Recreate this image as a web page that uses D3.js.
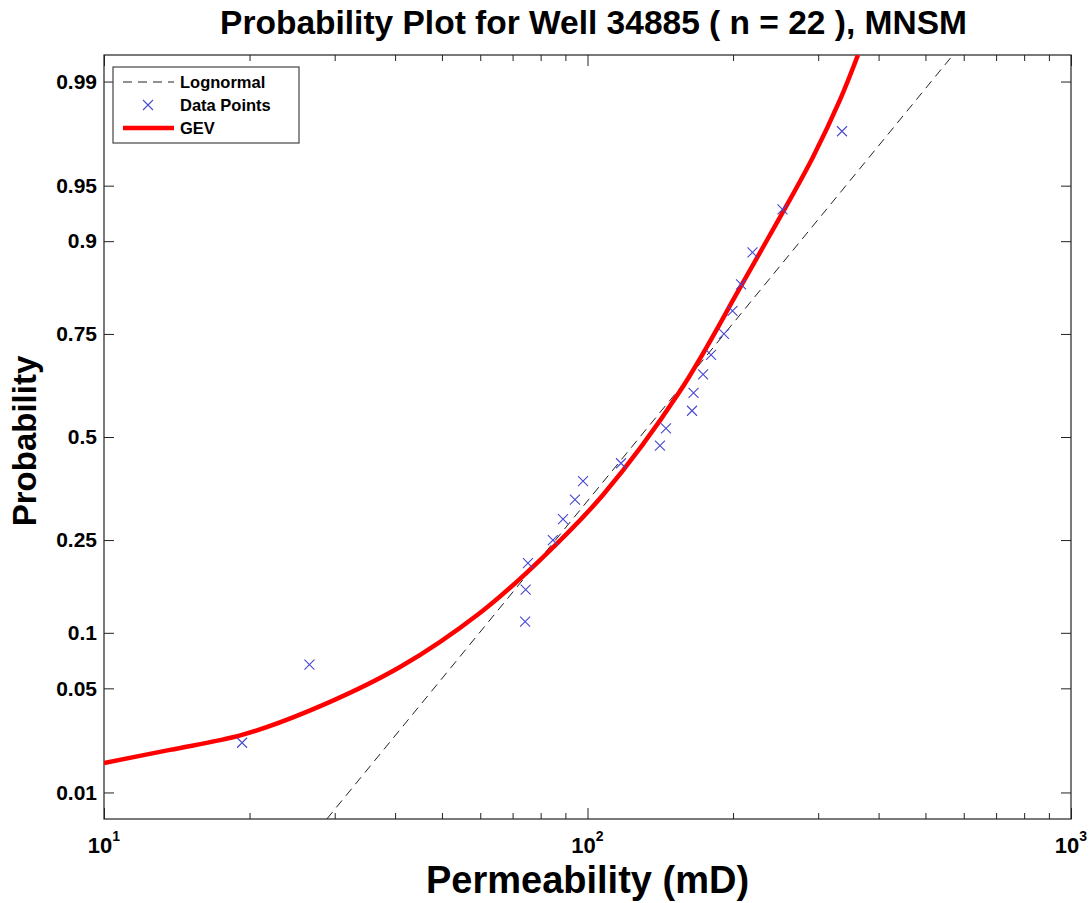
<!DOCTYPE html>
<html>
<head>
<meta charset="utf-8">
<script src="https://cdn.jsdelivr.net/npm/d3@7"></script>
<style>
  body { margin: 0; background: #fff; }
  text { font-family: "Liberation Sans", Arial, sans-serif; font-weight: bold; fill: #000; }
</style>
</head>
<body>
<div id="chart"></div>
<script>
// Data
var permeability = [19.3, 26.6, 74.3, 74.5, 75.3, 84.8, 89.0, 94.2, 97.9, 117.3, 141.2,
                    145.3, 164.5, 165.7, 173.4, 180.1, 191.5, 199.5, 207.8, 219.4, 253.1, 336.0];
var probability = [0.0227, 0.0682, 0.1136, 0.1591, 0.2045, 0.25, 0.2955, 0.3409, 0.3864, 0.4318, 0.4773,
                   0.5227, 0.5682, 0.6136, 0.6591, 0.7045, 0.75, 0.7955, 0.8409, 0.8864, 0.9318, 0.9773];

// GEV fitted curve
var gevX = [10.0, 13.69, 19.29, 26.55, 40.95, 59.9, 79.77, 107.6, 155.4, 207.8, 253.7, 292.7, 332.8, 362.6];
var gevP = [0.01645, 0.0203, 0.0256, 0.0365, 0.0661, 0.1247, 0.2104, 0.3521, 0.6183, 0.8385, 0.9296, 0.9666, 0.9863, 0.99379];

// Lognormal reference line end points
var lognX = [28.9, 570];
var lognP = [0.00621, 0.99379];

var probTicks = [0.01, 0.05, 0.1, 0.25, 0.5, 0.75, 0.9, 0.95, 0.99];
var probLabels = ["0.01", "0.05", "0.1", "0.25", "0.5", "0.75", "0.9", "0.95", "0.99"];
var xMajor = [10, 100, 1000];
var xMajorExp = ["1", "2", "3"];
var xMinor = [20, 30, 40, 50, 60, 70, 80, 90, 200, 300, 400, 500, 600, 700, 800, 900];

// inverse normal cdf (Acklam)
function probit(p) {
  var a = [-3.969683028665376e+01, 2.209460984245205e+02, -2.759285104469687e+02, 1.383577518672690e+02, -3.066479806614716e+01, 2.506628277459239e+00];
  var b = [-5.447609879822406e+01, 1.615858368580409e+02, -1.556989798598866e+02, 6.680131188771972e+01, -1.328068155288572e+01];
  var c = [-7.784894002430293e-03, -3.223964580411365e-01, -2.400758277161838e+00, -2.549732539343734e+00, 4.374664141464968e+00, 2.938163982698783e+00];
  var d = [7.784695709041462e-03, 3.224671290700398e-01, 2.445134137142996e+00, 3.754408661907416e+00];
  var plow = 0.02425, q, r;
  if (p < plow) {
    q = Math.sqrt(-2 * Math.log(p));
    return (((((c[0]*q+c[1])*q+c[2])*q+c[3])*q+c[4])*q+c[5]) / ((((d[0]*q+d[1])*q+d[2])*q+d[3])*q+1);
  }
  if (p > 1 - plow) {
    q = Math.sqrt(-2 * Math.log(1 - p));
    return -(((((c[0]*q+c[1])*q+c[2])*q+c[3])*q+c[4])*q+c[5]) / ((((d[0]*q+d[1])*q+d[2])*q+d[3])*q+1);
  }
  q = p - 0.5; r = q * q;
  return (((((a[0]*r+a[1])*r+a[2])*r+a[3])*r+a[4])*r+a[5])*q / (((((b[0]*r+b[1])*r+b[2])*r+b[3])*r+b[4])*r+1);
}

var margin = {top: 55, right: 21, bottom: 84, left: 104},
    width = 1092 - margin.left - margin.right,
    height = 903 - margin.top - margin.bottom;

var svg = d3.select("#chart")
  .append("svg")
    .attr("width", 1092)
    .attr("height", 903)
  .append("g")
    .attr("transform", "translate(" + margin.left + "," + margin.top + ")");

var x = d3.scaleLog().domain([10, 1000]).range([0, width]);
var z = d3.scaleLinear().domain([-2.5, 2.5]).range([height, 0]);
function y(p) { return z(probit(p)); }

svg.append("clipPath").attr("id", "clip")
  .append("rect").attr("width", width).attr("height", height);

// ticks (inward, mirrored like matlab box)
function styleAxis(g) {
  g.select(".domain").remove();
  g.selectAll(".tick line").attr("stroke", "#222");
}
svg.append("g").attr("transform", "translate(0," + height + ")")
  .call(d3.axisBottom(x).tickValues(xMajor).tickSize(-11).tickFormat("")).call(styleAxis);
svg.append("g").attr("transform", "translate(0," + height + ")")
  .call(d3.axisBottom(x).tickValues(xMinor).tickSize(-6).tickFormat("")).call(styleAxis);
svg.append("g")
  .call(d3.axisTop(x).tickValues(xMajor).tickSize(-11).tickFormat("")).call(styleAxis);
svg.append("g")
  .call(d3.axisTop(x).tickValues(xMinor).tickSize(-6).tickFormat("")).call(styleAxis);

var probZ = probTicks.map(probit);
svg.append("g")
  .call(d3.axisLeft(z).tickValues(probZ).tickSize(-10).tickPadding(7)
    .tickFormat(function(d, i) { return probLabels[i]; }))
  .call(styleAxis)
  .selectAll("text").style("font-size", "21px").attr("fill", "#000");
svg.append("g").attr("transform", "translate(" + width + ",0)")
  .call(d3.axisRight(z).tickValues(probZ).tickSize(-10).tickFormat(""))
  .call(styleAxis);

// x tick labels with superscripts
var xl = svg.append("g").selectAll("text")
  .data(xMajor).enter().append("text")
    .attr("x", function(d) { return x(d); })
    .attr("y", height + 34)
    .attr("text-anchor", "middle")
    .style("font-size", "22px");
xl.append("tspan").text("10");
xl.append("tspan").attr("dy", -12).style("font-size", "14px")
  .text(function(d, i) { return xMajorExp[i]; });

// frame
svg.append("rect")
  .attr("width", width).attr("height", height)
  .attr("fill", "none").attr("stroke", "#222").attr("stroke-width", 1.2);

var plot = svg.append("g").attr("clip-path", "url(#clip)");

// lognormal line
plot.append("path")
  .datum(d3.range(lognX.length))
  .attr("d", d3.line()
    .x(function(i) { return x(lognX[i]); })
    .y(function(i) { return y(lognP[i]); }))
  .attr("fill", "none")
  .attr("stroke", "#222")
  .attr("stroke-width", 1)
  .attr("stroke-dasharray", "9,6");

// gev curve
plot.append("path")
  .datum(d3.range(gevX.length))
  .attr("d", d3.line()
    .curve(d3.curveCatmullRom.alpha(0.5))
    .x(function(i) { return x(gevX[i]); })
    .y(function(i) { return y(gevP[i]); }))
  .attr("fill", "none")
  .attr("stroke", "#ff0000")
  .attr("stroke-width", 4.5);

// data points
var s = 5;
plot.selectAll(".pt")
  .data(d3.range(permeability.length))
  .enter().append("path")
    .attr("class", "pt")
    .attr("transform", function(i) { return "translate(" + x(permeability[i]) + "," + y(probability[i]) + ")"; })
    .attr("d", "M" + (-s) + "," + (-s) + "L" + s + "," + s + "M" + (-s) + "," + s + "L" + s + "," + (-s))
    .attr("stroke", "#4848d0")
    .attr("stroke-width", 1.1);

// legend
var lg = svg.append("g").attr("transform", "translate(9,12)");
lg.append("rect")
  .attr("width", 186).attr("height", 76)
  .attr("fill", "#fff").attr("stroke", "#444").attr("stroke-width", 1.2);
lg.append("line").attr("x1", 10).attr("x2", 61).attr("y1", 15).attr("y2", 15)
  .attr("stroke", "#222").attr("stroke-dasharray", "9,6");
lg.append("path").attr("transform", "translate(35,38)")
  .attr("d", "M-5,-5L5,5M-5,5L5,-5").attr("stroke", "#4848d0").attr("stroke-width", 1.1);
lg.append("line").attr("x1", 10).attr("x2", 61).attr("y1", 61).attr("y2", 61)
  .attr("stroke", "#ff0000").attr("stroke-width", 4.5);
var legendNames = ["Lognormal", "Data Points", "GEV"];
lg.selectAll(".lt").data(legendNames).enter().append("text")
  .attr("x", 67).attr("y", function(d, i) { return 15 + i * 23; })
  .attr("dy", "0.35em")
  .style("font-size", "16.5px")
  .text(function(d) { return d; });

// titles
svg.append("text")
  .attr("x", width / 2 + 6).attr("y", -21)
  .attr("text-anchor", "middle")
  .style("font-size", "33.5px")
  .text("Probability Plot for Well 34885 ( n = 22 ), MNSM");

svg.append("text")
  .attr("x", width / 2).attr("y", height + 74)
  .attr("text-anchor", "middle")
  .style("font-size", "38px")
  .text("Permeability (mD)");

svg.append("text")
  .attr("transform", "rotate(-90)")
  .attr("x", -386).attr("y", -68)
  .attr("text-anchor", "middle")
  .style("font-size", "33px")
  .text("Probability");
</script>
</body>
</html>
